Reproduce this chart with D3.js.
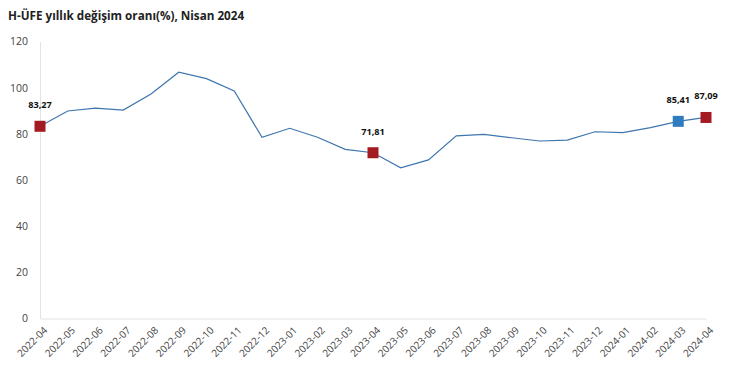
<!DOCTYPE html>
<html>
<head>
<meta charset="utf-8">
<script src="https://cdn.jsdelivr.net/npm/d3@7"></script>
<style>
  body { margin: 0; background: #fff; }
  text { font-family: "Open Sans", sans-serif; }
</style>
</head>
<body>
<div id="chart"></div>
<script>
const months = [
  "2022-04", "2022-05", "2022-06", "2022-07", "2022-08", "2022-09", "2022-10",
  "2022-11", "2022-12", "2023-01", "2023-02", "2023-03", "2023-04", "2023-05",
  "2023-06", "2023-07", "2023-08", "2023-09", "2023-10", "2023-11", "2023-12",
  "2024-01", "2024-02", "2024-03", "2024-04"
];
const values = [
  83.27, 89.9, 91.1, 90.3, 97.3, 106.7, 103.9, 98.6, 78.5, 82.4, 78.5, 73.3,
  71.81, 65.3, 68.7, 79.1, 79.8, 78.3, 76.9, 77.3, 80.9, 80.5, 82.7, 85.41, 87.09
];
// highlighted points: month, colour key
const highlights = [
  { month: "2022-04", kind: "year" },
  { month: "2023-04", kind: "year" },
  { month: "2024-03", kind: "prev" },
  { month: "2024-04", kind: "year" }
];
const yTicks = [0, 20, 40, 60, 80, 100, 120];

const dims = { width: 740, height: 381 };
const margin = { top: 41.5, right: 34, bottom: 62.5, left: 40 };
const w = dims.width - margin.left - margin.right;
const h = dims.height - margin.top - margin.bottom;

const markColor = { year: "#a31b20", prev: "#2f7dc0" };

const svg = d3.select("#chart")
  .append("svg")
  .attr("width", dims.width)
  .attr("height", dims.height);

svg.append("text")
  .attr("x", 8)
  .attr("y", 20)
  .attr("font-size", 11.7)
  .attr("font-weight", "bold")
  .attr("fill", "#222")
  .text("H-ÜFE yıllık değişim oranı(%), Nisan 2024");

const graph = svg.append("g")
  .attr("transform", `translate(${margin.left}, ${margin.top})`);

const xScale = d3.scalePoint().domain(months).range([0, w]);
const yScale = d3.scaleLinear().domain([0, 120]).range([h, 0]);

// axes
const yAxis = d3.axisLeft(yScale).tickValues(yTicks).tickSize(0).tickPadding(12);
const yAxisGroup = graph.append("g").call(yAxis);
yAxisGroup.select(".domain").attr("stroke", "#e3e3e3");
yAxisGroup.selectAll("text")
  .attr("font-size", 10.5)
  .attr("fill", "#444")
  .attr("font-family", "Open Sans, sans-serif");

const xAxis = d3.axisBottom(xScale).tickSize(0).tickPadding(0);
const xAxisGroup = graph.append("g")
  .attr("transform", `translate(0, ${h})`)
  .call(xAxis);
xAxisGroup.select(".domain").attr("stroke", "#e3e3e3");
xAxisGroup.selectAll("text")
  .attr("font-size", 10)
  .attr("fill", "#444")
  .attr("font-family", "Open Sans, sans-serif")
  .attr("text-anchor", "end")
  .attr("dy", "0.35em")
  .attr("transform", "translate(5, 10) rotate(-45)");

// line
const line = d3.line()
  .x((d, i) => xScale(months[i]))
  .y(d => yScale(d));

graph.append("path")
  .datum(values)
  .attr("fill", "none")
  .attr("stroke", "#3f76ad")
  .attr("stroke-width", 1.2)
  .attr("d", line);

// markers + labels
const hl = highlights.map(d => ({ ...d, value: values[months.indexOf(d.month)] }));
const size = 11;

graph.selectAll("rect.mark")
  .data(hl)
  .enter()
  .append("rect")
  .attr("class", "mark")
  .attr("x", d => xScale(d.month) - size / 2)
  .attr("y", d => yScale(d.value) - size / 2)
  .attr("width", size)
  .attr("height", size)
  .attr("fill", d => markColor[d.kind]);

graph.selectAll("text.lbl")
  .data(hl)
  .enter()
  .append("text")
  .attr("class", "lbl")
  .attr("x", d => xScale(d.month))
  .attr("y", d => yScale(d.value) - 18)
  .attr("text-anchor", "middle")
  .attr("font-size", 9.2)
  .attr("font-weight", "bold")
  .attr("font-family", "Liberation Sans, Arial, sans-serif")
  .attr("fill", "#111")
  .text(d => d3.format(".2f")(d.value).replace(".", ","));
</script>
</body>
</html>
